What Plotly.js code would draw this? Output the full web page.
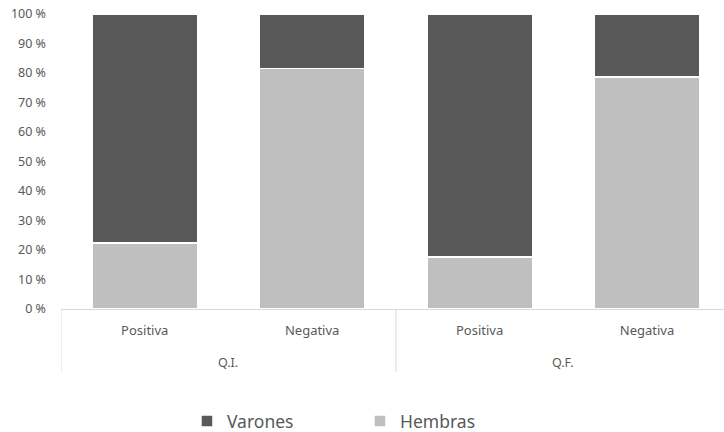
<!DOCTYPE html>
<html><head><meta charset="utf-8">
<script src="https://cdn.plot.ly/plotly-3.0.1.min.js"></script>
<style>body{margin:0;background:#fff}</style>
</head><body><div id="chart" style="width:724px;height:432px"></div>
<script>
const groups = ["Q.I.", "Q.I.", "Q.F.", "Q.F."];
const results = ["Positiva", "Negativa", "Positiva", "Negativa"];
const hembras = [22.4, 81.6, 17.6, 78.6];
const varones = [77.6, 18.4, 82.4, 21.4];
const yTicks = [0, 10, 20, 30, 40, 50, 60, 70, 80, 90, 100];

const font = "Noto Sans, Open Sans, sans-serif";
const cats = groups.map((g, i) => g + " " + results[i]);
const traces = [
  {type: "bar", name: "Hembras", x: cats, y: hembras,
   marker: {color: "#bfbfbf", line: {color: "#ffffff", width: 1.5}}, width: 0.63},
  {type: "bar", name: "Varones", x: cats, y: varones,
   marker: {color: "#595959", line: {color: "#ffffff", width: 1.5}}, width: 0.63}
];

// group labels and dividers derived from the group array
const uniqueGroups = [...new Set(groups)];
const annotations = uniqueGroups.map(g => {
  const idx = groups.map((v, i) => v === g ? i : -1).filter(i => i >= 0);
  const mid = (idx[0] + idx[idx.length - 1]) / 2;
  return {x: mid, xref: "x", y: -0.18, yref: "paper", text: g, showarrow: false,
          yanchor: "middle", font: {family: font, size: 12.5, color: "#595959"}};
});
const lineStyle = {color: "#d9d9d9", width: 1};
const shapes = [];
uniqueGroups.forEach(g => {
  const first = groups.indexOf(g);
  shapes.push({type: "line", xref: "x", yref: "paper", x0: first - 0.5, x1: first - 0.5,
               y0: 0, y1: -0.2136, line: lineStyle});
});

const layout = {
  width: 724, height: 432,
  margin: {l: 61, r: 0, t: 14, b: 123, autoexpand: false},
  barmode: "stack",
  paper_bgcolor: "#fff", plot_bgcolor: "#fff",
  showlegend: true,
  legend: {orientation: "h", x: 0.19, xanchor: "left", y: -0.38, yanchor: "middle",
           traceorder: "reversed", entrywidth: 128, font: {family: font, size: 17.5, color: "#595959"}},
  xaxis: {type: "category", range: [-0.5, 3.46], showline: true, linecolor: "#d9d9d9", linewidth: 1,
          showgrid: false, zeroline: false, ticks: "", automargin: false,
          tickvals: cats, ticktext: results, ticklabelstandoff: 9,
          tickfont: {family: font, size: 13, color: "#595959"}},
  yaxis: {range: [0, 100], tickvals: yTicks, ticktext: yTicks.map(v => v + " %"),
          showgrid: false, zeroline: false, showline: false, ticks: "", automargin: false,
          ticklabelstandoff: 14,
          tickfont: {family: font, size: 12.5, color: "#595959"}},
  annotations: annotations,
  shapes: shapes
};
Plotly.newPlot("chart", traces, layout, {displayModeBar: false, staticPlot: true});
</script></body></html>
